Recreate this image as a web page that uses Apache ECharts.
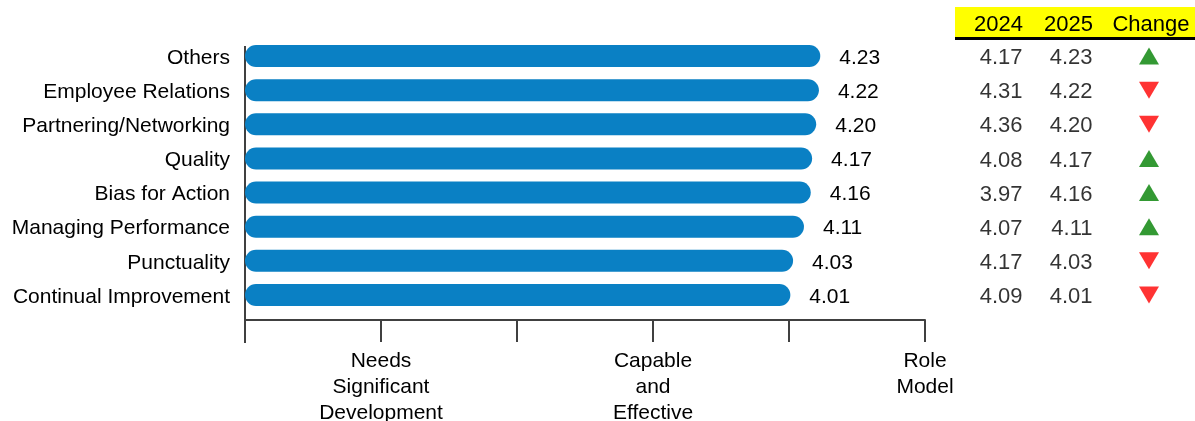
<!DOCTYPE html>
<html><head><meta charset="utf-8">
<script src="https://cdn.jsdelivr.net/npm/echarts@6/dist/echarts.min.js"></script>
<style>html,body{margin:0;padding:0;background:#fff}#c{width:1195px;height:421px}</style>
</head><body><div id="c"></div>
<script>
const categories = ['Others','Employee Relations','Partnering/Networking','Quality','Bias for Action','Managing Performance','Punctuality','Continual Improvement'];
const values2025 = [4.23,4.22,4.20,4.17,4.16,4.11,4.03,4.01];
const values2024 = [4.17,4.31,4.36,4.08,3.97,4.07,4.17,4.09];
const tickLabels = ['', 'Needs\nSignificant\nDevelopment', '', 'Capable\nand\nEffective', '', 'Role\nModel'];
const tableHeaders = ['2024','2025','Change'];

const FONT = '"Liberation Sans", Arial, sans-serif';
const AXIS = '#404040';
const chart = echarts.init(document.getElementById('c'), null, {renderer:'canvas'});

function textCol(vals, xPos){
  return {
    type:'scatter', xAxisIndex:1, yAxisIndex:1, symbolSize:1, silent:true,
    itemStyle:{color:'transparent'},
    data: vals.map((v,i)=>[xPos, i]),
    label:{show:true, position:'left', distance:0, offset:[0,2], color:'#000', fontFamily:FONT, fontSize:22,
      formatter:p=>vals[p.dataIndex].toFixed(2)}
  };
}

const option = {
  animation:false,
  backgroundColor:'#fff',
  grid:[
    {left:245, top:39, width:680, height:273, outerBoundsMode:'none', containLabel:false},
    {left:940, top:39, width:255, height:273, outerBoundsMode:'none', containLabel:false}
  ],
  xAxis:[
    {type:'value', gridIndex:0, min:0, max:5, interval:1, offset:8,
     axisLine:{show:true, lineStyle:{color:AXIS, width:2}},
     axisTick:{show:true, length:22, lineStyle:{color:AXIS, width:2}},
     splitLine:{show:false},
     axisLabel:{show:true, margin:28, color:'#000', fontFamily:FONT, fontSize:21, lineHeight:26,
       formatter:v=>tickLabels[Math.round(v)] || ''}},
    {type:'value', gridIndex:1, min:0, max:255, show:false}
  ],
  yAxis:[
    {type:'category', gridIndex:0, data:categories, inverse:true,
     axisLine:{show:false}, axisTick:{show:false},
     axisLabel:{margin:15, color:'#000', fontFamily:FONT, fontSize:21,
       formatter:v=>'{a|'+v+'}',
       rich:{a:{fontFamily:FONT, fontSize:21, color:'#000', padding:[4,0,0,0]}}}},
    {type:'category', gridIndex:1, data:categories, inverse:true, show:false}
  ],
  series:[
    {type:'bar', data:values2025, barWidth:22,
     itemStyle:{color:'#0A80C4', borderRadius:11},
     label:{show:true, position:'right', distance:19, offset:[0,2], color:'#000', fontFamily:FONT, fontSize:21,
       formatter:p=>p.value.toFixed(2)}},
    textCol(values2024, 83),
    textCol(values2025, 153),
    {type:'scatter', xAxisIndex:1, yAxisIndex:1, symbol:'triangle', symbolSize:[20,17], silent:true,
     data: values2025.map((v,i)=>{
       const up = v >= values2024[i];
       return {value:[209, i], symbolRotate: up ? 0 : 180, itemStyle:{color: up ? '#008000' : '#FF0000'}};
     })}
  ],
  graphic:[
    {type:'line', shape:{x1:245, y1:46, x2:245, y2:343}, style:{stroke:AXIS, lineWidth:2}},
    {type:'rect', shape:{x:955, y:7, width:240, height:30}, style:{fill:'#FFFF00'}},
    {type:'line', shape:{x1:955, y1:38.5, x2:1195, y2:38.5}, style:{stroke:'#000', lineWidth:3}},
    {type:'text', x:1023, y:25, style:{text:tableHeaders[0], font:'22px '+FONT, fill:'#000', align:'right', verticalAlign:'middle'}},
    {type:'text', x:1093, y:25, style:{text:tableHeaders[1], font:'22px '+FONT, fill:'#000', align:'right', verticalAlign:'middle'}},
    {type:'text', x:1151, y:25, style:{text:tableHeaders[2], font:'22px '+FONT, fill:'#000', align:'center', verticalAlign:'middle'}}
  ]
};
chart.setOption(option);
</script></body></html>
